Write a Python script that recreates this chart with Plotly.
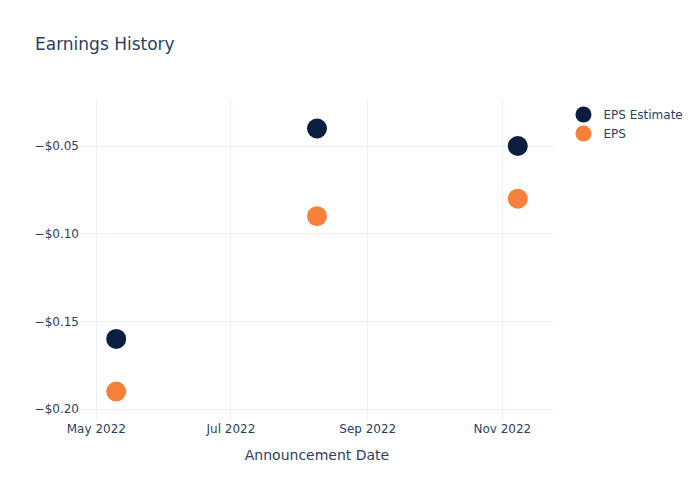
import plotly.graph_objects as go

dates = ["2022-05-10", "2022-08-09", "2022-11-08"]
eps_estimate = [-0.16, -0.04, -0.05]
eps_actual = [-0.19, -0.09, -0.08]

fig = go.Figure()
fig.add_trace(go.Scatter(x=dates, y=eps_estimate, mode="markers", name="EPS Estimate",
                         marker=dict(color="#0b1e40", size=20)))
fig.add_trace(go.Scatter(x=dates, y=eps_actual, mode="markers", name="EPS",
                         marker=dict(color="#f7803a", size=20)))
fig.update_layout(
    template="plotly_white",
    width=700, height=500,
    font=dict(family="DejaVu Sans"),
    title=dict(text="Earnings History"),
    xaxis=dict(title="Announcement Date", dtick="M2", tickformat="%b %Y"),
    yaxis=dict(tickformat="$.2f"),
)
fig.write_html("out.html")
